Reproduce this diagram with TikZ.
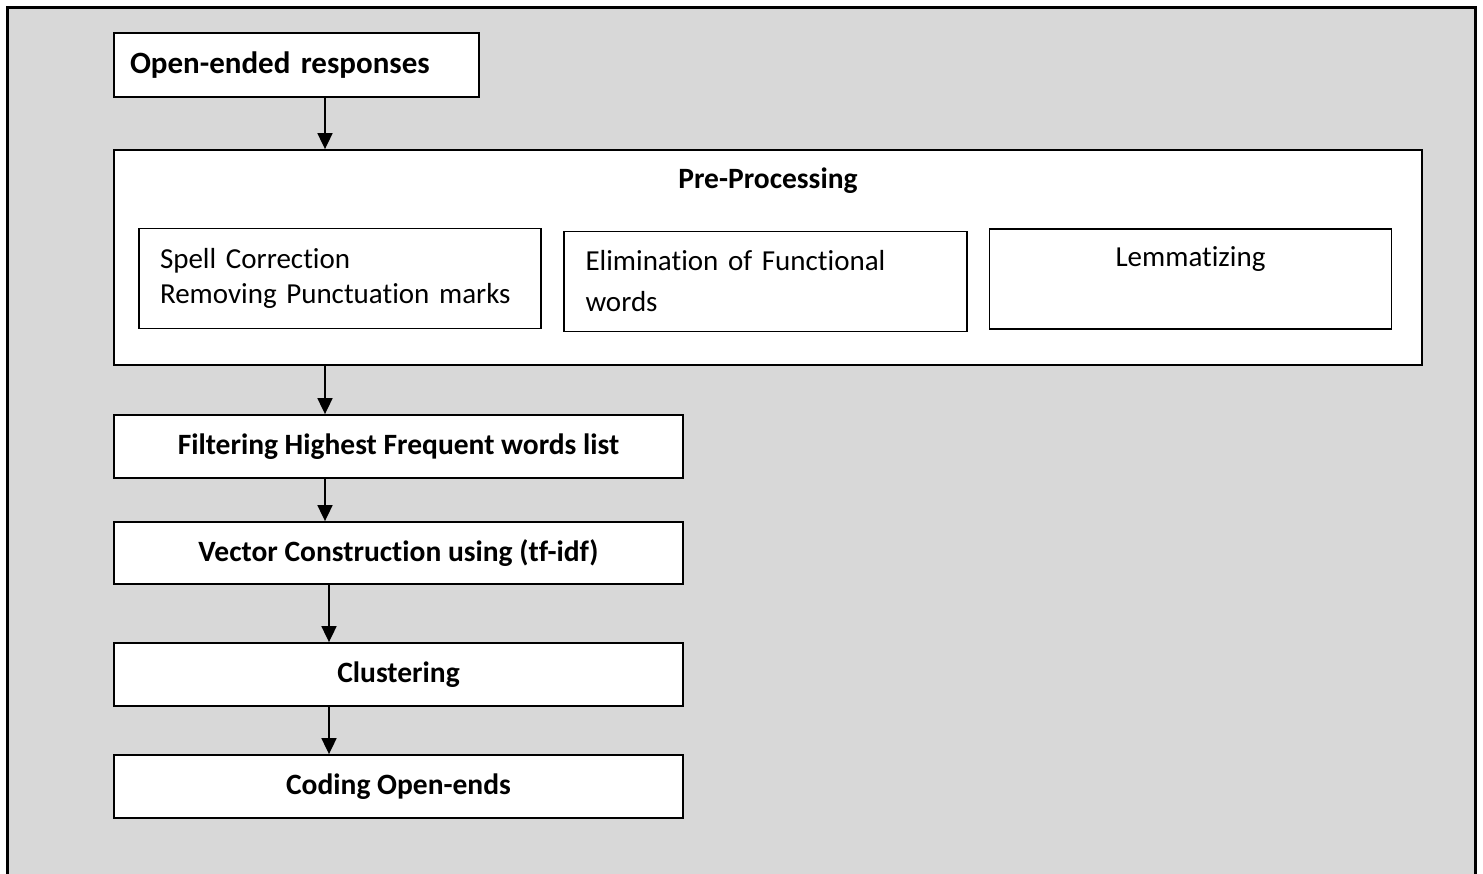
\documentclass[tikz,border=0pt]{standalone}
\usepackage{fontspec}
\setmainfont{Carlito}[Ligatures=NoCommon]
\usetikzlibrary{arrows.meta}

\definecolor{panelgray}{HTML}{D8D8D8}

\tikzset{
  stagebox/.style={draw, line width=1.8pt, fill=white, inner sep=0pt,
                   font=\fontsize{29.5}{35}\selectfont\bfseries},
  subbox/.style={draw, line width=1.5pt, fill=white, inner xsep=21pt, inner ysep=0pt,
                 minimum height=100pt, text width=#1, align=left},
  flow/.style={line width=1.8pt, -{Triangle[width=15pt,length=16pt]}}
}

\begin{document}
\begin{tikzpicture}[x=1pt, y=-1pt, font=\fontsize{29}{35}\selectfont]
  \useasboundingbox (0,0) rectangle (1483,873);
  % grey panel, its lower edge runs off the page
  \draw[line width=3pt, fill=panelgray] (7,7) rectangle (1475,890);

  % the stages
  \node[stagebox, minimum width=365pt, minimum height=64pt, text width=333pt,
        inner xsep=16pt, align=left, font=\fontsize{31}{37}\selectfont\bfseries]
       (resp) at (296.5,65) {Open-ended responses};
  \node[stagebox, minimum width=1308pt, minimum height=215pt] (prep) at (768,257.5) {};
  \node[font=\fontsize{29.5}{35}\selectfont\bfseries] (preptitle) at (768,181) {Pre-Processing};

  \node[subbox=360pt, minimum width=402pt] (spell) at (340,278.5)
       {Spell Correction\\Removing Punctuation marks};
  \node[subbox=360pt, minimum width=403pt, font=\fontsize{29}{41}\selectfont] (elim) at (765.5,281.5)
       {Elimination of Functional\\words};
  \node[subbox=360pt, minimum width=401pt, align=center] (lemma) at (1190.5,279)
       {Lemmatizing\\ \strut};

  \node[stagebox, minimum width=569pt, minimum height=63pt] (filter) at (398.5,446.5)
       {Filtering Highest Frequent words list};
  \node[stagebox, minimum width=569pt, minimum height=62pt] (vector) at (398.5,553)
       {Vector Construction using (tf-idf)};
  \node[stagebox, minimum width=569pt, minimum height=63pt] (cluster) at (398.5,674.5)
       {Clustering};
  \node[stagebox, minimum width=569pt, minimum height=63pt] (coding) at (398.5,786.5)
       {Coding Open-ends};

  % arrows between the stages
  \draw[flow] (resp.south -| 325,0) -- (prep.north -| 325,0);
  \draw[flow] (prep.south -| 325,0) -- (filter.north -| 325,0);
  \draw[flow] (filter.south -| 325,0) -- (vector.north -| 325,0);
  \draw[flow] (vector.south -| 329,0) -- (cluster.north -| 329,0);
  \draw[flow] (cluster.south -| 329,0) -- (coding.north -| 329,0);
\end{tikzpicture}
\end{document}
